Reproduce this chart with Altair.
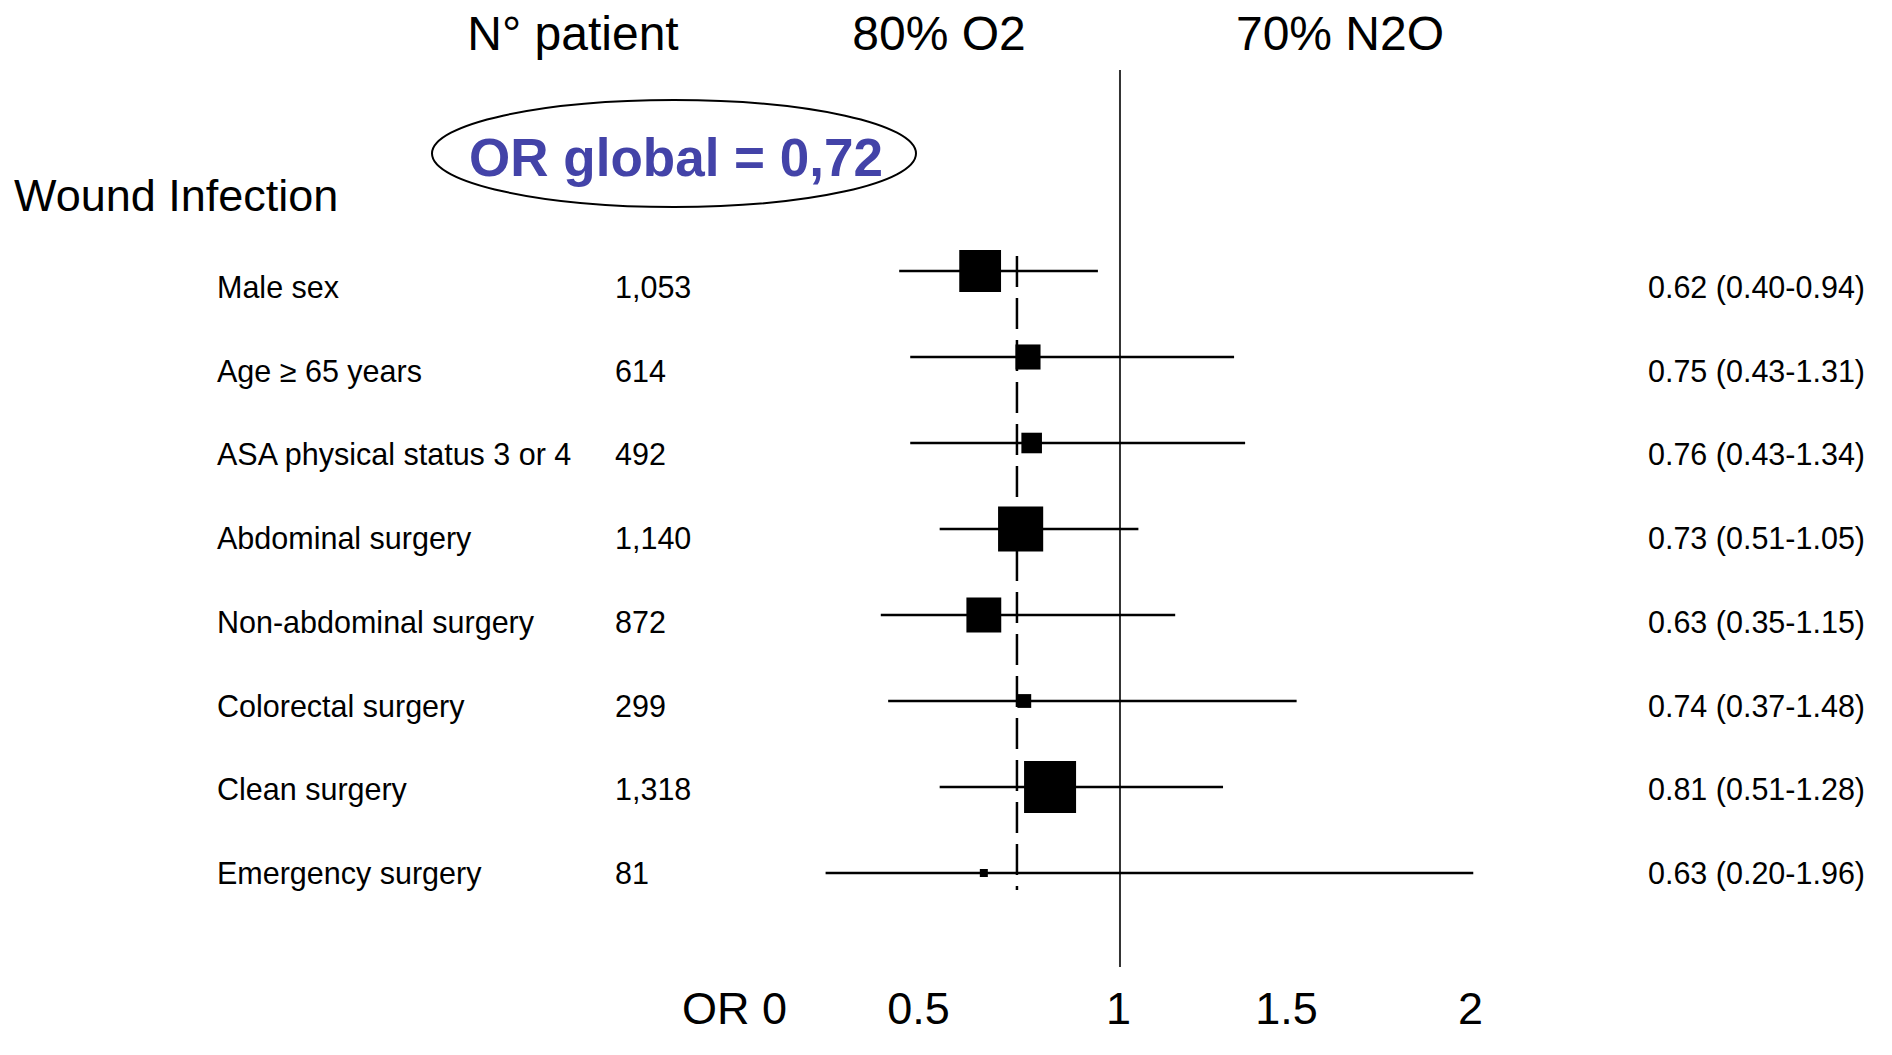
import altair as alt
import pandas as pd

# ---- data ----
labels = ["Male sex", "Age ≥ 65 years", "ASA physical status 3 or 4", "Abdominal surgery",
          "Non-abdominal surgery", "Colorectal surgery", "Clean surgery", "Emergency surgery"]
n_patients = [1053, 614, 492, 1140, 872, 299, 1318, 81]
odds_ratio = [0.62, 0.75, 0.76, 0.73, 0.63, 0.74, 0.81, 0.63]
ci_low = [0.40, 0.43, 0.43, 0.51, 0.35, 0.37, 0.51, 0.20]
ci_high = [0.94, 1.31, 1.34, 1.05, 1.15, 1.48, 1.28, 1.96]
or_global = 0.72
tick_values = [0, 0.5, 1, 1.5, 2]
headers = ["N° patient", "80% O2", "70% N2O"]

df = pd.DataFrame({
    "label": labels,
    "n": n_patients,
    "or": odds_ratio,
    "lo": ci_low,
    "hi": ci_high,
})
df["n_txt"] = [f"{v:,}" for v in n_patients]
df["or_txt"] = [f"{o:.2f} ({l:.2f}-{h:.2f})" for o, l, h in zip(odds_ratio, ci_low, ci_high)]

FONT = "Liberation Sans"
W, H = 1876, 959

xscale = alt.Scale(domain=[-2.0217, 3.0761], nice=False, zero=False)
xaxis = alt.Axis(values=tick_values, title=None, domain=False, ticks=False, tickSize=0,
                 grid=False, labelFontSize=45, labelFont=FONT, labelColor="black",
                 labelPadding=20, labelFlush=False, labelOverlap=False,
                 labelOffset={"condition": {"test": "datum.value == 1", "value": -2}, "value": -18},
                 labelExpr="datum.value == 0 ? 'OR 0' : format(datum.value, '~g')")

y_forest = alt.Y("label:N", scale=alt.Scale(type="point", domain=labels, range=[263, 865], padding=0), axis=None)
y_text = alt.Y("label:N", scale=alt.Scale(type="point", domain=labels, range=[281, 867], padding=0), axis=None)

base = alt.Chart(df)

ref_one = alt.Chart(pd.DataFrame({"or": [1.0]})).mark_rule(strokeWidth=2, color="#333333").encode(
    x=alt.X("or:Q", scale=xscale, axis=xaxis), y=alt.value(62), y2=alt.value(H))

ref_global = alt.Chart(pd.DataFrame({"or": [or_global]})).mark_rule(
    strokeWidth=2.5, color="black", strokeDash=[31, 11]).encode(
    x=alt.X("or:Q", scale=xscale, axis=xaxis), y=alt.value(248), y2=alt.value(882))

ci = base.mark_rule(strokeWidth=2.5, color="black").encode(
    x=alt.X("lo:Q", scale=xscale, axis=xaxis), x2="hi:Q", y=y_forest)

boxes = base.mark_square(color="black", filled=True, opacity=1).encode(
    x=alt.X("or:Q", scale=xscale, axis=xaxis), y=y_forest,
    size=alt.Size("n:Q", scale=alt.Scale(type="pow", exponent=2, domain=[81, 1318],
                                         range=[64, 2704], zero=False), legend=None))

forest = alt.layer(ref_one, ref_global, ci, boxes)

lab_txt = base.mark_text(align="left", baseline="middle", fontSize=30.5, font=FONT, color="black").encode(
    x=alt.value(209), y=y_text, text="label:N")
n_txt = base.mark_text(align="left", baseline="middle", fontSize=30.5, font=FONT, color="black").encode(
    x=alt.value(607), y=y_text, text="n_txt:N")
or_txt = base.mark_text(align="right", baseline="middle", fontSize=30.5, font=FONT, color="black").encode(
    x=alt.value(1857), y=y_text, text="or_txt:N")

texts = alt.layer(lab_txt, n_txt, or_txt)

hdr_df = pd.DataFrame({"h": headers, "px": [565, 931, 1332]})
hdr = alt.Chart(hdr_df).mark_text(align="center", baseline="alphabetic", fontSize=48, font=FONT,
                                  color="black").encode(
    x=alt.X("px:Q", scale=None), y=alt.value(42), text="h:N")

wound = alt.Chart(pd.DataFrame({"t": ["Wound Infection"]})).mark_text(
    align="left", baseline="alphabetic", fontSize=45, font=FONT, color="black").encode(
    x=alt.value(6), y=alt.value(203), text="t:N")

ellipse = alt.Chart(pd.DataFrame({"t": ["e"]})).mark_point(
    shape="M -1 0 A 1 0.221 0 1 1 1 0 A 1 0.221 0 1 1 -1 0 Z",
    filled=False, color="black", strokeWidth=2, opacity=1, size=484 * 484).encode(
    x=alt.value(666), y=alt.value(145.5))

global_txt = alt.Chart(pd.DataFrame({"t": [f"OR global = {str(or_global).replace('.', ',')}"]})).mark_text(
    align="center", baseline="alphabetic", fontSize=53, font=FONT, fontWeight="bold",
    color="#4343A8").encode(x=alt.value(668), y=alt.value(168), text="t:N")

chart = alt.layer(forest, texts, hdr, wound, ellipse, global_txt).resolve_scale(
    y="independent"
).properties(width=W, height=H, padding=0, background="white").configure_view(stroke=None)

chart.save("out.html", embed_options={"renderer": "svg", "actions": False})
